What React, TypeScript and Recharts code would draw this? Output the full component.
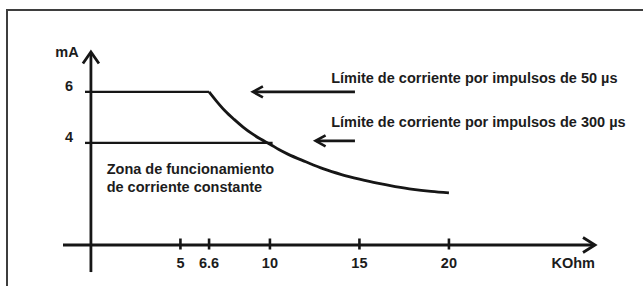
import React from 'react';
import { LineChart, Line, XAxis, YAxis, ReferenceLine, ReferenceDot, Label } from 'recharts';

// ---- data ----
const xTicks = [5, 6.6, 10, 15, 20];
const yTicks = [4, 6];
const xUnit = 'KOhm';
const yUnit = 'mA';

// 50 µs limit: flat part and fall-off (R in kOhm, I in mA)
const flat50R = [0, 6.6];
const flat50I = [6, 6];
const curve50R = [6.6, 7, 7.5, 8, 8.5, 9, 9.5, 10, 10.5, 11, 12, 13, 14, 15, 16, 17, 18, 19, 20];
const curve50I = [6, 5.65, 5.25, 4.92, 4.62, 4.36, 4.14, 3.95, 3.74, 3.56, 3.26, 2.98, 2.76, 2.58, 2.42, 2.29, 2.18, 2.1, 2.04];
// 300 µs limit
const limit300R = [0, 10.15];
const limit300I = [4, 4];

const label50 = 'Límite de corriente por impulsos de 50 µs';
const label300 = 'Límite de corriente por impulsos de 300 µs';
const zoneLines = ['Zona de funcionamiento', 'de corriente constante'];

// annotation anchors in data coordinates
const arrow50 = { from: 14.75, to: 9.05, at: 6.0 };
const arrow300 = { from: 14.75, to: 12.55, at: 4.08 };
const label50At = { r: 13.42, i: 6.35 };
const label300At = { r: 13.42, i: 4.62 };
const zoneAt = { r: 0.88, i: 2.78 };

const xDomain = [-1.56, 28.16];
const yDomain = [0, 7.6];
const yAxisTop = 7.56;
const yAxisBottom = -1.06;

const toRows = (rs: number[], is: number[]) => rs.map((r, k) => ({ r, i: is[k] }));

const INK = '#161616';
const FONT = '"Liberation Sans", Arial, Helvetica, sans-serif';
const FS = 14.5;

const txt = {
  fontFamily: FONT,
  fontSize: FS,
  fontWeight: 700,
  fill: '#1c1c1c',
} as const;

const ArrowRight = (p: any) => {
  const x1 = Math.min(p.x1, p.x2);
  const x2 = Math.max(p.x1, p.x2);
  const y = p.y1;
  return (
    <g>
      <line x1={x1} y1={y} x2={x2 - 1} y2={y} stroke={INK} strokeWidth={2.8} />
      <polyline points={`${x2 - 12},${y - 7.5} ${x2},${y} ${x2 - 12},${y + 7.5}`} fill="none" stroke={INK} strokeWidth={2.8} />
    </g>
  );
};

const ArrowUp = (p: any) => {
  const yTop = Math.min(p.y1, p.y2);
  const yBot = Math.max(p.y1, p.y2);
  const x = p.x1;
  return (
    <g>
      <line x1={x} y1={yTop + 1} x2={x} y2={yBot} stroke={INK} strokeWidth={2.8} />
      <polyline points={`${x - 8},${yTop + 11.5} ${x},${yTop} ${x + 8},${yTop + 11.5}`} fill="none" stroke={INK} strokeWidth={2.8} />
    </g>
  );
};

const ArrowLeft = (p: any) => {
  const xTip = Math.min(p.x1, p.x2);
  const xEnd = Math.max(p.x1, p.x2);
  const y = p.y1;
  return (
    <g>
      <line x1={xTip + 1} y1={y} x2={xEnd} y2={y} stroke={INK} strokeWidth={2.6} />
      <polyline points={`${xTip + 10},${y - 5.5} ${xTip},${y} ${xTip + 10},${y + 5.5}`} fill="none" stroke={INK} strokeWidth={2.6} />
    </g>
  );
};

const XTick = (p: any) => {
  const { x, y, payload } = p;
  return (
    <g>
      <line x1={x} y1={y - 6.5} x2={x} y2={y + 4.5} stroke={INK} strokeWidth={2.6} />
      <text x={x} y={y + 22.5} textAnchor="middle" style={txt}>
        {String(payload.value)}
      </text>
    </g>
  );
};

const YTick = (p: any) => {
  const { x, y, payload } = p;
  return (
    <g>
      <line x1={x + 22} y1={y} x2={x + 28} y2={y} stroke={INK} strokeWidth={2.3} />
      <text x={x + 6} y={y - 0.5} textAnchor="middle" style={txt}>
        {String(payload.value)}
      </text>
    </g>
  );
};

const TextAt = (lines: string[], lineHeight: number) => (p: any) => (
  <text x={p.cx} y={p.cy} style={txt}>
    {lines.map((l, k) => (
      <tspan key={k} x={p.cx} dy={k === 0 ? 0 : lineHeight}>
        {l}
      </tspan>
    ))}
  </text>
);

export default function App() {
  return (
    <div style={{ position: 'fixed', left: 0, top: 0, width: 643, height: 286, background: '#fff', overflow: 'hidden' }}>
      <div
        style={{
          position: 'absolute',
          left: 6,
          top: 9,
          width: 700,
          height: 320,
          borderTop: '2px solid #3e3e3e',
          borderLeft: '2px solid #3e3e3e',
        }}
      />
      <div style={{ position: 'absolute', left: 0, top: 0 }}>
        <LineChart width={643} height={286} margin={{ top: 51, right: 48, bottom: 0, left: 0 }}>
          <XAxis
            dataKey="r"
            type="number"
            domain={xDomain}
            allowDataOverflow
            ticks={xTicks}
            interval={0}
            height={41}
            axisLine={false}
            tickLine={false}
            tickSize={0}
            tickMargin={0}
            tick={<XTick />}
          >
            <Label
              content={(lp: any) => {
                const vb = lp.viewBox || {};
                return (
                  <text x={vb.x + vb.width} y={vb.y + 22.5} textAnchor="end" style={txt}>
                    {xUnit}
                  </text>
                );
              }}
            />
          </XAxis>
          <YAxis
            dataKey="i"
            type="number"
            domain={yDomain}
            allowDataOverflow
            ticks={yTicks}
            interval={0}
            width={63}
            axisLine={false}
            tickLine={false}
            tickSize={0}
            tickMargin={0}
            tick={<YTick />}
          >
            <Label
              content={(lp: any) => {
                const vb = lp.viewBox || {};
                return (
                  <text x={vb.x + vb.width + 4} y={vb.y + 6} textAnchor="middle" style={txt}>
                    {yUnit}
                  </text>
                );
              }}
            />
          </YAxis>

          {/* axes with arrow heads */}
          <ReferenceLine
            segment={[{ x: xDomain[0], y: 0 }, { x: xDomain[1], y: 0 }]}
            ifOverflow="visible"
            shape={ArrowRight}
          />
          <ReferenceLine
            segment={[{ x: 0, y: yAxisBottom }, { x: 0, y: yAxisTop }]}
            ifOverflow="visible"
            shape={ArrowUp}
          />

          <Line
            data={toRows(flat50R, flat50I)}
            dataKey="i"
            type="linear"
            stroke={INK}
            strokeWidth={2.4}
            dot={false}
            activeDot={false}
            isAnimationActive={false}
          />
          <Line
            data={toRows(curve50R, curve50I)}
            dataKey="i"
            type="monotone"
            stroke={INK}
            strokeWidth={2.8}
            dot={false}
            activeDot={false}
            isAnimationActive={false}
          />
          <Line
            data={toRows(limit300R, limit300I)}
            dataKey="i"
            type="linear"
            stroke={INK}
            strokeWidth={2.3}
            dot={false}
            activeDot={false}
            isAnimationActive={false}
          />

          {/* annotation arrows */}
          <ReferenceLine
            segment={[{ x: arrow50.to, y: arrow50.at }, { x: arrow50.from, y: arrow50.at }]}
            ifOverflow="visible"
            shape={ArrowLeft}
          />
          <ReferenceLine
            segment={[{ x: arrow300.to, y: arrow300.at }, { x: arrow300.from, y: arrow300.at }]}
            ifOverflow="visible"
            shape={ArrowLeft}
          />

          <ReferenceDot x={label50At.r} y={label50At.i} ifOverflow="visible" shape={TextAt([label50], 17)} />
          <ReferenceDot x={label300At.r} y={label300At.i} ifOverflow="visible" shape={TextAt([label300], 17)} />
          <ReferenceDot x={zoneAt.r} y={zoneAt.i} ifOverflow="visible" shape={TextAt(zoneLines, 17.5)} />
        </LineChart>
      </div>
    </div>
  );
}
